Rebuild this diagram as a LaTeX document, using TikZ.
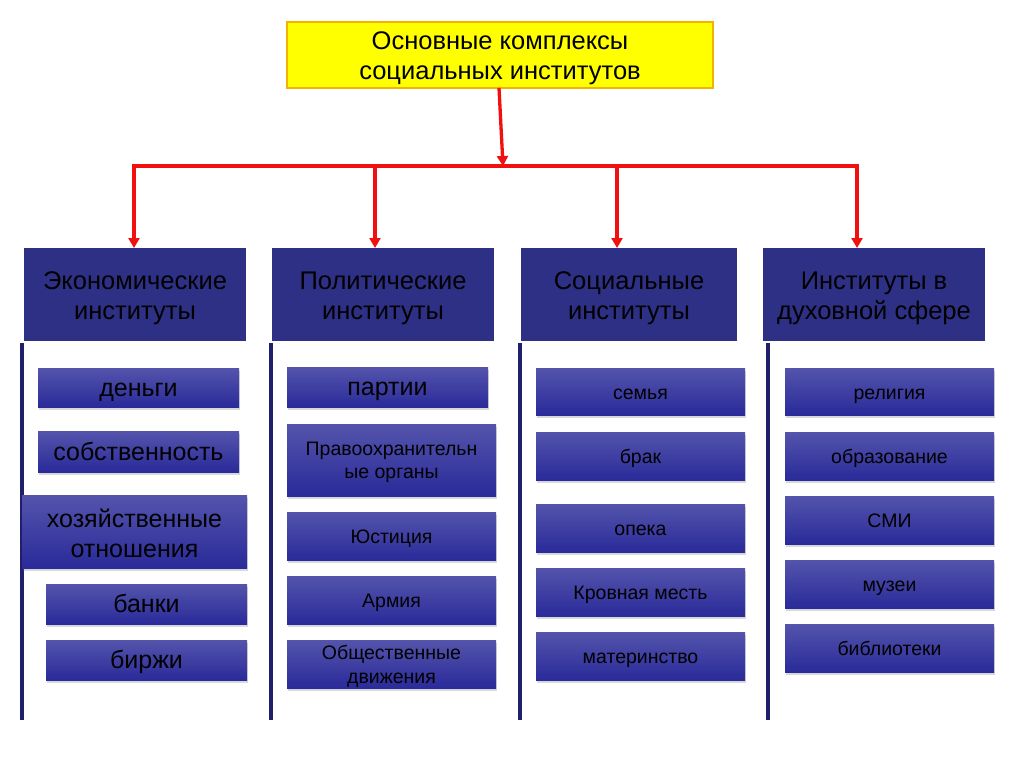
\documentclass[tikz,border=0pt]{standalone}
\usepackage{fontspec}
\setmainfont{Liberation Sans}
\usetikzlibrary{arrows.meta,shadows}
\definecolor{hdrblue}{HTML}{2E3085}
\definecolor{boxtop}{HTML}{5454AC}
\definecolor{boxbot}{HTML}{2A2A9A}
\definecolor{navy}{HTML}{1F1F6B}
\definecolor{redline}{HTML}{F01010}
\definecolor{titlebg}{HTML}{FFFF00}
\definecolor{titleedge}{HTML}{F2B400}
\tikzset{
  base/.style={rectangle, inner sep=0pt, outer sep=0pt, align=center, text=black},
  titlebox/.style={base, fill=titlebg, draw=titleedge, line width=1.5pt, font=\fontsize{25.5}{30}\selectfont},
  hdrbox/.style={base, fill=hdrblue, font=\fontsize{25.5}{30}\selectfont},
  itembox/.style={base, top color=boxtop, bottom color=boxbot,
    drop shadow={opacity=0.3, shadow xshift=0.8pt, shadow yshift=-2.5pt}},
  bigtxt/.style={font=\fontsize{25}{30}\selectfont},
  smalltxt/.style={font=\fontsize{19.5}{23}\selectfont},
  bigone/.style={bigtxt, text height=22.5pt, text depth=5.5pt},
  smallone/.style={smalltxt, text height=19.5pt, text depth=4.5pt},
  redarrow/.style={draw=redline, line width=3.3pt, -{Triangle[length=10pt,width=11pt]}},
  redline/.style={draw=redline, line width=3.3pt},
  navyline/.style={draw=navy, line width=3.3pt}
}
% struts for multi-line texts
\newcommand\tstr[1]{\rule{0pt}{#1em}}
\newcommand\bstr[1]{\rule[-#1em]{0pt}{0pt}}
% \bx[style]{name}{x1}{y1}{x2}{y2}{text}
\newcommand\bx[7][]{%
  \node[#1, minimum width={(#5-#3)*1pt}, minimum height={(#6-#4)*1pt}]
    (#2) at ({(#3+#5)/2},{(#4+#6)/2}) {#7};}
\begin{document}
\begin{tikzpicture}[x=1pt,y=-1pt]
\useasboundingbox[fill=white] (0,0) rectangle (1024,767);

% title
\bx[titlebox]{title}{287}{22}{713}{88}{\tstr{1.03}Основные комплексы\\социальных институтов\bstr{0.25}}

% headers
\bx[hdrbox]{h1}{24}{248}{246}{341}{\tstr{1.07}Экономические\\институты\bstr{0.25}}
\bx[hdrbox]{h2}{272}{248}{494}{341}{\tstr{1.07}Политические\\институты\bstr{0.25}}
\bx[hdrbox]{h3}{521}{248}{737}{341}{\tstr{1.07}Социальные\\институты\bstr{0.25}}
\bx[hdrbox]{h4}{763}{248}{985}{341}{\tstr{1.07}Институты в\\духовной сфере\bstr{0.25}}

% connectors
\coordinate (tb) at (499,88);
\coordinate (hm) at (503,166);
\coordinate (hl) at (134,166);
\coordinate (hr) at (857,166);
\draw[redarrow] (tb) -- (hm);
\draw[redline, line cap=rect] (hl) -- (hr);
\draw[redarrow] (hl) -- (hl |- h1.north);
\draw[redarrow] (375,166) -- (375,248);
\draw[redarrow] (617,166) -- (617,248);
\draw[redarrow] (hr) -- (hr |- h4.north);

% vertical navy lines
\coordinate (v1a) at (22,343); \coordinate (v1b) at (22,720);
\coordinate (v2a) at (271,343); \coordinate (v2b) at (271,720);
\coordinate (v3a) at (520,343); \coordinate (v3b) at (520,720);
\coordinate (v4a) at (768,343); \coordinate (v4b) at (768,720);
\draw[navyline] (v1a) -- (v1b);
\draw[navyline] (v2a) -- (v2b);
\draw[navyline] (v3a) -- (v3b);
\draw[navyline] (v4a) -- (v4b);

% column 1
\bx[itembox,bigone]{a1}{38}{368}{239}{407}{деньги}
\bx[itembox,bigone]{a2}{38}{431}{239}{472}{собственность}
\bx[itembox,bigtxt]{a3}{22}{495}{247}{568}{\tstr{1.09}хозяйственные\\отношения\bstr{0.25}}
\bx[itembox,bigone]{a4}{46}{584}{247}{624}{банки}
\bx[itembox,bigone]{a5}{46}{640}{247}{680}{биржи}

% column 2
\bx[itembox,bigone]{b1}{287}{367}{488}{407}{партии}
\bx[itembox,smalltxt]{b2}{287}{424}{496}{496}{\tstr{0.92}Правоохранительн\\ые органы\bstr{0.25}}
\bx[itembox,smallone]{b3}{287}{512}{496}{560}{Юстиция}
\bx[itembox,smallone]{b4}{287}{576}{496}{624}{Армия}
\bx[itembox,smalltxt, font=\fontsize{19.5}{24}\selectfont]{b5}{287}{640}{496}{688}{\tstr{1.0}Общественные\\движения\bstr{0.2}}

% column 3
\bx[itembox,smallone]{c1}{536}{368}{745}{415}{семья}
\bx[itembox,smallone]{c2}{536}{432}{745}{480}{брак}
\bx[itembox,smallone]{c3}{536}{504}{745}{552}{опека}
\bx[itembox,smallone]{c4}{536}{568}{745}{616}{Кровная месть}
\bx[itembox,smallone]{c5}{536}{632}{745}{680}{материнство}

% column 4
\bx[itembox,smallone]{d1}{785}{368}{994}{415}{религия}
\bx[itembox,smallone]{d2}{785}{432}{994}{480}{образование}
\bx[itembox,smallone]{d3}{785}{496}{994}{544}{СМИ}
\bx[itembox,smallone]{d4}{785}{560}{994}{608}{музеи}
\bx[itembox,smallone]{d5}{785}{624}{994}{672}{библиотеки}
\end{tikzpicture}
\end{document}
